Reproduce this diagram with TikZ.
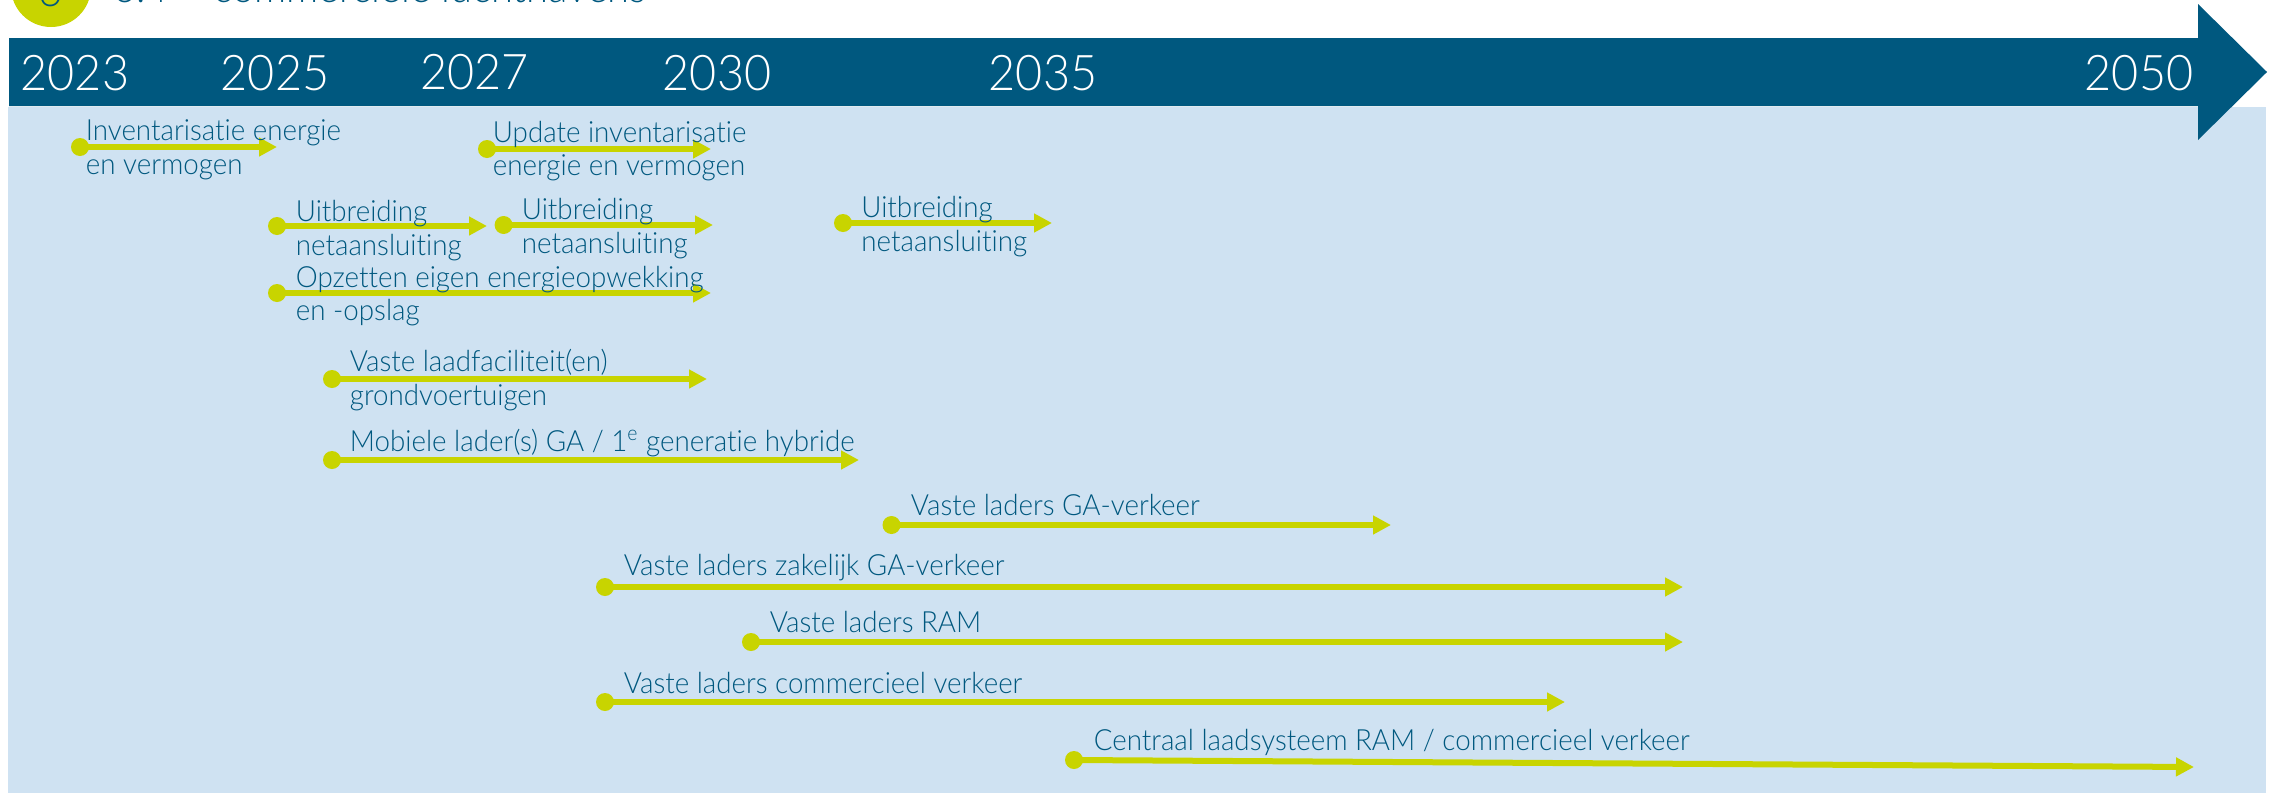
\documentclass[tikz,border=0pt]{standalone}
\usepackage{fontspec}
\setmainfont[FakeStretch=0.95,Ligatures=NoCommon]{Lato Light}
\usetikzlibrary{arrows.meta}
\definecolor{dblue}{HTML}{00587F}
\definecolor{lblue}{HTML}{CFE2F2}
\definecolor{lime}{HTML}{C8D400}
\tikzset{x=0.5pt,y=-0.5pt,
 year/.style={text=white,font=\fontsize{24.6}{25}\selectfont,inner sep=0pt,anchor=center},
 lab/.style={text=dblue,font=\fontsize{14.6}{16.8}\selectfont,inner sep=0pt,anchor=west,align=left,xshift=-0.75pt},
 dot/.style={circle,fill=lime,minimum size=9pt,inner sep=0pt},
 bar/.style={draw=lime,line width=3pt,-{Triangle[length=9pt,width=9pt]}},
}
\newcommand{\tl}[8]{% name, dotx, doty, tipx, tipy, textx, texty, text
 \node[dot] (#1d) at (#2,#3) {};
 \coordinate (#1t) at (#4,#5);
 \draw[bar] (#1d.center) -- (#1t);
 \node[lab] (#1l) at (#6,#7) {#8};
}
\begin{document}
\begin{tikzpicture}
\useasboundingbox (0,0) rectangle (2272,793);
\clip (0,0) rectangle (2272,793);
\fill[lblue] (8,107) rectangle (2266,793);
\fill[dblue] (9,38) -- (2198,38) -- (2198,4) -- (2267,72) -- (2198,140) -- (2198,106) -- (9,106) -- cycle;
\node[circle,fill=lime,minimum size=40pt,inner sep=0pt] (badge) at (51,-13) {};
\node[text=dblue,font=\fontsize{22}{22}\selectfont,inner sep=0pt,anchor=base] (badgenum) at (51,6) {6};
\node[text=dblue,font=\fontsize{21}{21}\selectfont,inner sep=0pt,anchor=base west] (title) at (113,2) {6.4 – commerciële luchthavens};
\node[year] (y23) at (75,73) {2023};
\node[year] (y25) at (275,73) {2025};
\node[year] (y27) at (474.5,72) {2027};
\node[year] (y30) at (717,73) {2030};
\node[year] (y35) at (1043,73) {2035};
\node[year] (y50) at (2139,73) {2050};
\tl{a}{80}{147}{277}{147}{87}{150}{Inventarisatie energie\\en vermogen}
\tl{b}{487}{149}{711}{149}{494}{151}{Update inventarisatie\\energie en vermogen}
\tl{c}{277}{226}{487}{226}{297}{230.5}{Uitbreiding\\netaansluiting}
\tl{e}{503.6}{225}{713}{225}{523}{228.5}{Uitbreiding\\netaansluiting}
\tl{f}{843}{223}{1052}{223}{862.5}{226.5}{Uitbreiding\\netaansluiting}
\tl{g}{277}{293}{711}{293}{297}{296}{Opzetten eigen energieopwekking\\en -opslag}
\tl{h}{332}{379}{707}{379}{351}{380}{Vaste laadfaciliteit(en)\\grondvoertuigen}
\tl{i}{332}{460}{859}{460}{351}{443}{Mobiele lader(s) GA / 1\textsuperscript{e} generatie hybride}
\tl{j}{891.5}{525}{1391}{525}{912}{505}{Vaste laders GA-verkeer}
\tl{k}{605}{587}{1683}{587}{625}{568}{Vaste laders zakelijk GA-verkeer}
\tl{m}{751}{642}{1683}{642}{771}{622}{Vaste laders RAM}
\tl{n}{605}{702}{1565}{702}{625}{683}{Vaste laders commercieel verkeer}
\tl{o}{1074}{760}{2194}{767}{1095}{742}{Centraal laadsysteem RAM / commercieel verkeer}
\end{tikzpicture}
\end{document}
